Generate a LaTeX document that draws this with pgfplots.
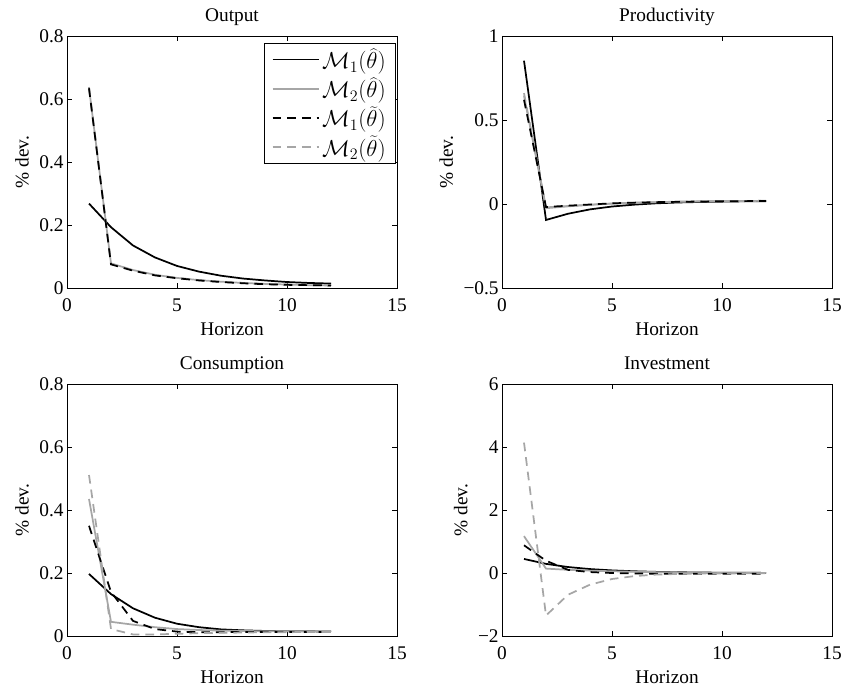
\documentclass[border=0pt]{standalone}
\usepackage{pgfplots}
\pgfplotsset{compat=1.18}
\usepackage{fontspec}
\setmainfont{Liberation Serif}
\definecolor{mgray}{gray}{0.65}
\pgfplotsset{
  myax/.style={
    scale only axis, width=247.5pt, height=189pt,
    xmin=0, xmax=15, xtick={0,5,10,15},
    tick align=inside, tick pos=both,
    major tick length=3.5pt,
    axis line style={line width=0.6pt},
    every tick/.style={black, line width=0.6pt},
    font=\fontsize{14.5}{16}\selectfont,
    /pgf/number format/assume math mode=true,
    xlabel={Horizon}, ylabel={\% dev.},
    xlabel style={at={(0.5,0)}, anchor=base, yshift=-35.5pt, inner sep=0pt},
    ylabel style={yshift=1pt},
    title style={at={(0.5,1)}, anchor=base, yshift=5pt, inner sep=0pt},
    xticklabel style={anchor=base, yshift=-17.5pt},
    yticklabel style={xshift=1pt},
  },
  s1/.style={black, line width=1.3pt},
  s2/.style={mgray, line width=1.3pt},
  s3/.style={black, line width=1.3pt, dash pattern=on 6.5pt off 4.5pt},
  s4/.style={mgray, line width=1.3pt, dash pattern=on 6.5pt off 4.5pt},
}
\begin{document}
\begin{tikzpicture}
% Output
\begin{axis}[myax, at={(50.25pt,300.75pt)}, title={Output},
  ymin=0, ymax=0.8, ytick={0,0.2,0.4,0.6,0.8},
  legend style={at={(0.997,0.972)}, anchor=north east, draw=black,
    font=\fontsize{16.5}{18}\selectfont, row sep=1.5pt, inner xsep=5.5pt, inner ysep=2pt},
  legend cell align=left,
  legend image code/.code={\draw[#1, line width=1.3pt] (0pt,0pt) -- (34.5pt,0pt);}]
\addlegendimage{s1}\addlegendimage{s2}\addlegendimage{s3}\addlegendimage{s4}
\addplot[s1, forget plot] coordinates {(1,0.268)(2,0.193)(3,0.135)(4,0.097)(5,0.070)(6,0.052)(7,0.039)(8,0.030)(9,0.024)(10,0.019)(11,0.016)(12,0.014)};
\addplot[s2, forget plot] coordinates {(1,0.636)(2,0.078)(3,0.057)(4,0.042)(5,0.032)(6,0.025)(7,0.020)(8,0.016)(9,0.013)(10,0.011)(11,0.009)(12,0.008)};
\addplot[s4, forget plot] coordinates {(1,0.638)(2,0.077)(3,0.056)(4,0.041)(5,0.032)(6,0.025)(7,0.020)(8,0.016)(9,0.013)(10,0.011)(11,0.009)(12,0.008)};
\addplot[s3, forget plot] coordinates {(1,0.634)(2,0.075)(3,0.055)(4,0.040)(5,0.031)(6,0.024)(7,0.019)(8,0.015)(9,0.012)(10,0.010)(11,0.009)(12,0.008)};
\legend{$\mathcal{M}_1(\widehat{\theta})$, $\mathcal{M}_2(\widehat{\theta})$, $\mathcal{M}_1(\widetilde{\theta})$, $\mathcal{M}_2(\widetilde{\theta})$}
\end{axis}
% Productivity
\begin{axis}[myax, at={(376.5pt,300.75pt)}, title={Productivity},
  ymin=-0.5, ymax=1, ytick={-0.5,0,0.5,1}, yticklabels={−0.5,0,0.5,1}]
\addplot[s1] coordinates {(1,0.853)(2,-0.095)(3,-0.058)(4,-0.032)(5,-0.015)(6,-0.004)(7,0.004)(8,0.009)(9,0.012)(10,0.014)(11,0.016)(12,0.017)};
\addplot[s2] coordinates {(1,0.645)(2,-0.025)(3,-0.014)(4,-0.005)(5,0.002)(6,0.007)(7,0.011)(8,0.013)(9,0.015)(10,0.017)(11,0.018)(12,0.019)};
\addplot[s4] coordinates {(1,0.66)(2,-0.02)(3,-0.012)(4,-0.004)(5,0.003)(6,0.008)(7,0.011)(8,0.014)(9,0.016)(10,0.017)(11,0.018)(12,0.019)};
\addplot[s3] coordinates {(1,0.62)(2,-0.018)(3,-0.010)(4,-0.003)(5,0.004)(6,0.008)(7,0.011)(8,0.013)(9,0.015)(10,0.016)(11,0.017)(12,0.018)};
\end{axis}
% Consumption
\begin{axis}[myax, at={(50.25pt,39.75pt)}, title={Consumption},
  ymin=0, ymax=0.8, ytick={0,0.2,0.4,0.6,0.8}]
\addplot[s1] coordinates {(1,0.197)(2,0.133)(3,0.088)(4,0.058)(5,0.039)(6,0.028)(7,0.021)(8,0.018)(9,0.016)(10,0.015)(11,0.015)(12,0.014)};
\addplot[s2] coordinates {(1,0.435)(2,0.045)(3,0.036)(4,0.028)(5,0.022)(6,0.019)(7,0.017)(8,0.016)(9,0.015)(10,0.015)(11,0.015)(12,0.015)};
\addplot[s3] coordinates {(1,0.35)(2,0.14)(3,0.048)(4,0.022)(5,0.014)(6,0.012)(7,0.012)(8,0.013)(9,0.013)(10,0.013)(11,0.013)(12,0.013)};
\addplot[s4] coordinates {(1,0.511)(2,0.022)(3,0.005)(4,0.005)(5,0.007)(6,0.009)(7,0.010)(8,0.011)(9,0.012)(10,0.012)(11,0.013)(12,0.013)};
\end{axis}
% Investment
\begin{axis}[myax, at={(376.5pt,39.75pt)}, title={Investment},
  ymin=-2, ymax=6, ytick={-2,0,2,4,6}, yticklabels={−2,0,2,4,6}]
\addplot[s1] coordinates {(1,0.446)(2,0.29)(3,0.19)(4,0.125)(5,0.083)(6,0.055)(7,0.036)(8,0.024)(9,0.015)(10,0.01)(11,0.006)(12,0.004)};
\addplot[s2] coordinates {(1,1.17)(2,0.14)(3,0.10)(4,0.075)(5,0.055)(6,0.04)(7,0.028)(8,0.02)(9,0.013)(10,0.009)(11,0.006)(12,0.004)};
\addplot[s3] coordinates {(1,0.88)(2,0.39)(3,0.10)(4,0.03)(5,0.0)(6,-0.015)(7,-0.022)(8,-0.025)(9,-0.026)(10,-0.026)(11,-0.025)(12,-0.024)};
\addplot[s4] coordinates {(1,4.14)(2,-1.35)(3,-0.69)(4,-0.37)(5,-0.19)(6,-0.1)(7,-0.05)(8,-0.03)(9,-0.02)(10,-0.015)(11,-0.012)(12,-0.01)};
\end{axis}
\pgfresetboundingbox
\path[use as bounding box] (0,0) rectangle (630.75pt,516.75pt);
\end{tikzpicture}
\end{document}
